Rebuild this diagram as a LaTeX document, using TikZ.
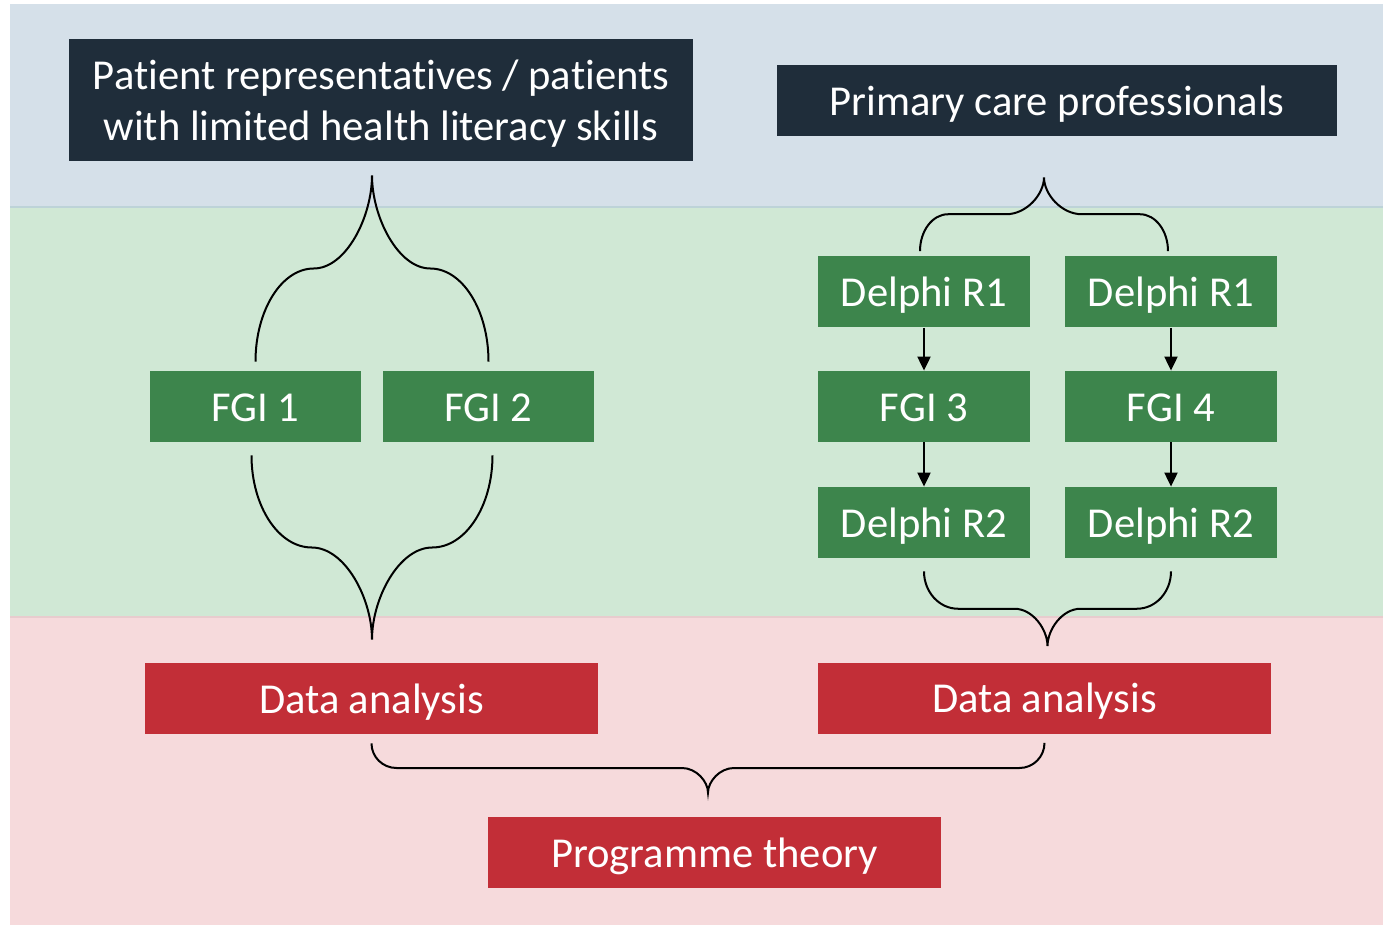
\documentclass[tikz,border=0pt]{standalone}
\usepackage{fontspec}
\setmainfont{Carlito}[Ligatures=NoCommon]
\usetikzlibrary{calc,arrows.meta}

\definecolor{bandblue}{HTML}{D5E0E9}
\definecolor{bandgreen}{HTML}{D0E8D5}
\definecolor{bandpink}{HTML}{F6DADC}
\definecolor{lineblue}{HTML}{BDD3D8}
\definecolor{linepink}{HTML}{E8CCCE}
\definecolor{boxnavy}{HTML}{1F2D3A}
\definecolor{boxgreen}{HTML}{3D854C}
\definecolor{boxred}{HTML}{C22E37}

\begin{document}
\begin{tikzpicture}[x=0.5pt,y=-0.5pt,
  box/.style={inner sep=0pt, text=white, align=center,
    minimum height=35.5pt, text height=16pt, text depth=1.3pt,
    font=\fontsize{21.3}{25.5}\selectfont},
  groupbox/.style={box, fill=boxnavy},
  stagebox/.style={box, fill=boxgreen, minimum width=106pt},
  resultbox/.style={box, fill=boxred, minimum width=226.5pt},
  bracket/.style={line width=1pt, black},
  flow/.style={line width=1pt, -{Triangle[length=7pt,width=6.5pt]}}]
  \useasboundingbox (0,0) rectangle (1383,925);

  % bands
  \fill[bandblue]  (10,4)   rectangle (1383,207);
  \fill[bandgreen] (10,207) rectangle (1383,617);
  \fill[bandpink]  (10,617) rectangle (1383,925);
  \draw[lineblue, line width=1pt] (10,207) -- (1383,207);
  \draw[linepink, line width=1pt] (10,617) -- (1383,617);

  % brace: left end, right end, tip height, end radius, tip radius
  \def\curly#1#2#3#4#5{%
    \draw[bracket] let \p1=(#1), \p2=(#2), \p3=(#3),
        \n1={(\y1+\y3)/2}, \n2={(\x1+\x2)/2} in
      (\p1) .. controls (\x1,{\y1+0.552*(\n1-\y1)}) and ({\x1+0.448*#4},\n1) .. ({\x1+#4},\n1)
      -- ({\n2-#5},\n1)
      .. controls ({\n2-0.448*#5},\n1) and (\n2,{\n1+0.552*(\y3-\n1)}) .. (\n2,\y3)
      .. controls (\n2,{\n1+0.552*(\y3-\n1)}) and ({\n2+0.448*#5},\n1) .. ({\n2+#5},\n1)
      -- ({\x2-#4},\n1)
      .. controls ({\x2-0.448*#4},\n1) and (\x2,{\y2+0.552*(\n1-\y2)}) .. (\p2);}

  % groups
  \node[groupbox, minimum width=312pt, minimum height=61pt,
    text height=41pt, text depth=0pt] (pat) at (381,100)
    {Patient representatives / patients\\with limited health literacy skills};
  \node[groupbox, minimum width=280pt] (prim) at (1057,100.5) {Primary care professionals};

  % left stream
  \node[stagebox, minimum width=105.5pt] (fgiA) at (255.5,406.5) {FGI 1};
  \node[stagebox, minimum width=105.5pt] (fgiB) at (488.5,406.5) {FGI 2};
  \node[resultbox] (daL) at (371.5,698.5) {Data analysis};

  % right stream
  \node[stagebox] (dA1)  at (924,292)    {Delphi R1};
  \node[stagebox] (dB1)  at (1171,292)   {Delphi R1};
  \node[stagebox] (fgiC) at (924,406.5)  {FGI 3};
  \node[stagebox] (fgiD) at (1171,406.5) {FGI 4};
  \node[stagebox] (dA2)  at (924,522.5)  {Delphi R2};
  \node[stagebox] (dB2)  at (1171,522.5) {Delphi R2};
  \node[resultbox] (daR) at (1044.5,698) {Data analysis};

  \node[resultbox] (prog) at (714.5,852.5) {Programme theory};

  \draw[flow] (dA1.south) -- (fgiC.north);
  \draw[flow] (dB1.south) -- (fgiD.north);
  \draw[flow] (fgiC.south) -- (dA2.north);
  \draw[flow] (fgiD.south) -- (dB2.north);

  \coordinate (b1L) at ($(fgiA.north)+(0,-9)$);
  \coordinate (b1R) at ($(fgiB.north)+(0,-9)$);
  \coordinate (b1T) at ($(pat.south)+(0,14)$);
  \curly{b1L}{b1R}{b1T}{29.125pt}{29.125pt}

  \coordinate (b2L) at ($(fgiA.south)+(-4,13)$);
  \coordinate (b2R) at ($(fgiB.south)+(4,13)$);
  \coordinate (b2T) at ($(daL.north)+(0,-23)$);
  \curly{b2L}{b2R}{b2T}{30.125pt}{30.125pt}

  \coordinate (b3L) at ($(dA1.north)+(-4,-5)$);
  \coordinate (b3R) at ($(dB1.north)+(-3,-5)$);
  \coordinate (b3T) at ($(prim.south)+(0,41)$);
  \curly{b3L}{b3R}{b3T}{14pt}{19pt}

  \coordinate (b4L) at ($(dA2.south)+(0,13)$);
  \coordinate (b4R) at ($(dB2.south)+(0,13)$);
  \coordinate (b4T) at ($(daR.north)+(0,-16)$);
  \curly{b4L}{b4R}{b4T}{17pt}{16.5pt}

  \coordinate (b5L) at ($(daL.south)+(0,9)$);
  \coordinate (b5R) at ($(daR.south)+(0,9)$);
  \coordinate (b5T) at ($(prog.north)+(0,-24)$);
  \curly{b5L}{b5R}{b5T}{12.5pt}{13pt}
\end{tikzpicture}
\end{document}
